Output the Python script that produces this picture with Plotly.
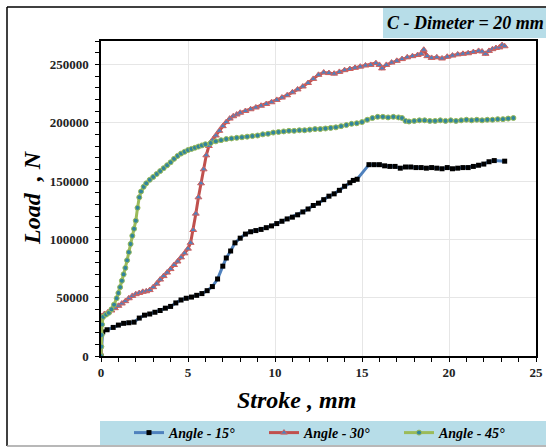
import plotly.graph_objects as go

# Stroke (mm) / load (N) readings for each punch angle
stroke_15 = [0, 0.1, 0.35, 0.7, 1.0, 1.3, 1.6, 1.9, 2.2, 2.5, 2.8, 3.1, 3.4, 3.7, 4.0, 4.3, 4.6, 4.9,
             5.2, 5.5, 5.8, 6.1, 6.4, 6.7, 7.0, 7.2, 7.45, 7.7, 8.0, 8.3, 8.6, 8.9, 9.2, 9.5, 9.8, 10.1,
             10.4, 10.7, 11.0, 11.3, 11.6, 11.9, 12.2, 12.5, 12.8, 13.1, 13.4, 13.7, 14.0, 14.3, 14.5,
             14.72, 15.4, 15.7, 16.0, 16.3, 16.6, 16.9, 17.2, 17.5, 17.8, 18.1, 18.4, 18.7, 19.0, 19.3,
             19.6, 19.9, 20.2, 20.5, 20.8, 21.1, 21.4, 21.7, 22.0, 22.3, 22.6, 23.2]
load_15 = [0, 20600, 22500, 24500, 26500, 28000, 28500, 29000, 32500, 35000, 36000, 37500, 39000,
           41000, 42500, 45500, 48000, 49500, 50500, 52000, 53500, 56000, 59500, 66000, 77000, 84000,
           90000, 97000, 101000, 104500, 106500, 107500, 108500, 110000, 111500, 113500, 115500,
           117500, 119000, 121000, 123500, 126000, 129000, 131000, 134000, 137000, 139000, 142000,
           145500, 148500, 150500, 151500, 164000, 164000, 164000, 163000, 162500, 162500, 161000,
           162000, 162000, 161500, 161500, 161000, 161500, 161000, 160500, 161500, 160500, 161000,
           161500, 161500, 162500, 163500, 164500, 166500, 167500, 167000]

stroke_30 = [0, 0.03, 0.2, 0.4, 0.6, 0.8, 1.0, 1.2, 1.4, 1.6, 1.8, 2.0, 2.2, 2.4, 2.6, 2.8, 3.0, 3.2,
             3.4, 3.6, 3.8, 4.0, 4.2, 4.4, 4.6, 4.8, 5.0, 5.15, 5.3, 5.45, 5.6, 5.75, 5.9, 6.05, 6.2,
             6.4, 6.6, 6.8, 7.0, 7.2, 7.4, 7.6, 7.8, 8.0, 8.3, 8.6, 8.9, 9.2, 9.5, 9.8, 10.1, 10.4,
             10.7, 11.0, 11.3, 11.6, 11.9, 12.2, 12.5, 12.8, 13.1, 13.4, 13.7, 14.0, 14.3, 14.6, 14.9,
             15.2, 15.5, 15.8, 16.0, 16.15, 16.4, 16.7, 17.0, 17.3, 17.6, 17.9, 18.2, 18.4, 18.55,
             18.75, 19.0, 19.3, 19.6, 19.9, 20.2, 20.5, 20.8, 21.1, 21.4, 21.7, 21.9, 22.1, 22.3,
             22.5, 22.7, 22.9, 23.05, 23.2]
load_30 = [0, 34000, 36000, 37500, 39000, 41000, 43000, 45000, 47000, 49500, 51500, 53000, 54000,
           55000, 55500, 56500, 59000, 62000, 65500, 68500, 71500, 74500, 78000, 81000, 84500, 88000,
           92000, 97000, 108000, 122000, 136000, 148000, 160000, 172000, 180000, 185000, 189000,
           193000, 197000, 200500, 203500, 205500, 207000, 208500, 210000, 211500, 213000, 214500,
           216000, 217500, 219500, 221500, 223500, 226000, 228500, 231000, 234000, 237500, 241000,
           243000, 242500, 242000, 243500, 245000, 246000, 247000, 248000, 249000, 249500, 251000,
           249500, 246500, 249500, 251500, 253000, 254500, 256000, 257000, 258000, 259000, 262500,
           257000, 255500, 256000, 255000, 256500, 257500, 258500, 259000, 259500, 260500, 261500,
           261000, 259000, 261500, 263000, 264000, 264500, 266500, 265500]

stroke_45 = [0, 0.02, 0.04, 0.06, 0.12, 0.3, 0.45, 0.6, 0.75, 0.9, 1.0, 1.1, 1.2, 1.3, 1.4, 1.5, 1.6,
             1.7, 1.8, 1.9, 2.0, 2.1, 2.2, 2.3, 2.45, 2.6, 2.8, 3.0, 3.2, 3.4, 3.6, 3.8, 4.0, 4.2, 4.4,
             4.6, 4.8, 5.0, 5.2, 5.4, 5.6, 5.8, 6.0, 6.3, 6.6, 6.9, 7.2, 7.5, 7.8, 8.1, 8.4, 8.7, 9.0,
             9.3, 9.6, 9.9, 10.2, 10.5, 10.8, 11.1, 11.4, 11.7, 12.0, 12.3, 12.6, 12.9, 13.2, 13.5,
             13.8, 14.1, 14.4, 14.7, 15.0, 15.3, 15.6, 15.9, 16.2, 16.5, 16.8, 17.1, 17.3, 17.5, 17.7,
             18.0, 18.3, 18.6, 18.9, 19.2, 19.5, 19.8, 20.1, 20.4, 20.7, 21.0, 21.3, 21.6, 21.9, 22.2,
             22.5, 22.8, 23.1, 23.4, 23.7]
load_45 = [0, 8000, 18000, 27000, 33500, 35500, 37000, 40000, 44000, 49500, 54000, 59000, 64500,
           70000, 75500, 82000, 89000, 96000, 103000, 109000, 116000, 127000, 136000, 141000, 145000,
           148000, 151000, 153500, 156000, 158500, 161000, 163500, 166000, 169000, 171500, 173500,
           175000, 176500, 177500, 178500, 179500, 180500, 181500, 182500, 184000, 185000, 186000,
           186500, 187000, 187500, 188000, 188500, 189000, 190000, 190500, 191500, 192000, 192500,
           193000, 193000, 193500, 193500, 194000, 194500, 194500, 195000, 195500, 196000, 197000,
           198000, 199000, 199500, 200500, 202500, 204000, 205000, 205000, 204500, 205000, 204500,
           204000, 201500, 201000, 201500, 202000, 202000, 201500, 201500, 202000, 201500, 202000,
           201500, 202000, 202500, 202000, 202500, 202000, 202500, 202500, 203000, 203000, 203500,
           204000]

series_names = ["Angle - 15°", "Angle - 30°", "Angle - 45°"]

SERIF = "Liberation Serif"
W, H = 546, 448
ML, MR, MT, MB = 101, 10, 41, 92
PW, PH = W - ML - MR, H - MT - MB


def px(x):
    return (x - ML) / PW


def py(y):
    return (H - MB - y) / PH


fig = go.Figure()
fig.add_trace(go.Scatter(
    x=stroke_15, y=load_15, name=series_names[0], mode="lines+markers",
    line=dict(color="#4f81bd", width=3),
    marker=dict(symbol="square", size=5, color="#000000", line=dict(width=0)),
))
fig.add_trace(go.Scatter(
    x=stroke_30, y=load_30, name=series_names[1], mode="lines+markers",
    line=dict(color="#c0504d", width=3),
    marker=dict(symbol="triangle-up", size=6, color="#4f81bd",
                line=dict(color="#d0605d", width=1)),
))
fig.add_trace(go.Scatter(
    x=stroke_45, y=load_45, name=series_names[2], mode="lines+markers",
    line=dict(color="#9bbb59", width=3),
    marker=dict(symbol="circle", size=5, color="#31859c",
                line=dict(color="#9bbb59", width=1)),
))

shapes = [
    # outer frame
    dict(type="line", xref="paper", yref="paper", x0=px(7), x1=px(7), y0=py(7), y1=py(446),
         line=dict(color="#000000", width=1.5)),
    dict(type="line", xref="paper", yref="paper", x0=px(7), x1=px(W + 2), y0=py(7), y1=py(7),
         line=dict(color="#000000", width=1.5)),
    dict(type="line", xref="paper", yref="paper", x0=px(7), x1=px(W + 2), y0=py(446), y1=py(446),
         line=dict(color="#a0a0a0", width=1.5)),
    # title band
    dict(type="rect", xref="paper", yref="paper", x0=px(383), x1=px(W + 2), y0=py(38), y1=py(8),
         fillcolor="#b7dde8", line=dict(width=0), layer="below"),
    # legend band
    dict(type="rect", xref="paper", yref="paper", x0=px(100), x1=px(W + 2), y0=py(445), y1=py(421),
         fillcolor="#b7dde8", line=dict(width=0), layer="below"),
]

annotations = [
    dict(text="<b><i>C - Dimeter = 20 mm</i></b>", xref="paper", yref="paper",
         x=px(385), y=py(23), xanchor="left", yanchor="middle", showarrow=False,
         font=dict(family=SERIF, size=18, color="#000000")),
    dict(text="<b><i>Stroke , mm</i></b>", xref="paper", yref="paper",
         x=px(296), y=py(400), xanchor="center", yanchor="middle", showarrow=False,
         font=dict(family=SERIF, size=24, color="#000000")),
    dict(text="<b><i>Load  , N</i></b>", xref="paper", yref="paper", textangle=-90,
         x=px(32), y=py(198), xanchor="center", yanchor="middle", showarrow=False,
         font=dict(family=SERIF, size=24, color="#000000")),
]

axis_common = dict(
    showline=True, mirror=True, linecolor="#000000", linewidth=1.5,
    ticks="outside", tickcolor="#000000", ticklen=4, tickwidth=1.2,
    showgrid=True, gridcolor="#e6e6e6", gridwidth=1, zeroline=False,
    tickfont=dict(family=SERIF, size=13, color="#222222", weight="bold"),
)

fig.update_layout(
    width=W, height=H,
    margin=dict(l=ML, r=MR, t=MT, b=MB, autoexpand=False),
    paper_bgcolor="#ffffff", plot_bgcolor="#ffffff",
    showlegend=True,
    legend=dict(
        orientation="h", x=px(129), xanchor="left", y=py(433), yanchor="middle",
        bgcolor="rgba(0,0,0,0)", entrywidth=90, entrywidthmode="pixels",
        font=dict(family=SERIF, size=14, color="#000000", style="italic", weight="bold"),
        itemwidth=30, tracegroupgap=0,
    ),
    shapes=shapes,
    annotations=annotations,
    xaxis=dict(range=[0, 25], dtick=5, tick0=0,
               minor=dict(dtick=1, ticks="outside", ticklen=4, tickcolor="#000000", showgrid=False),
               **axis_common),
    yaxis=dict(range=[0, 270000], dtick=50000, tick0=0, tickformat="d", ticklabelstandoff=4,
               minor=dict(dtick=10000, ticks="outside", ticklen=4, tickcolor="#000000", showgrid=False),
               **axis_common),
)

fig.write_html("out.html")
